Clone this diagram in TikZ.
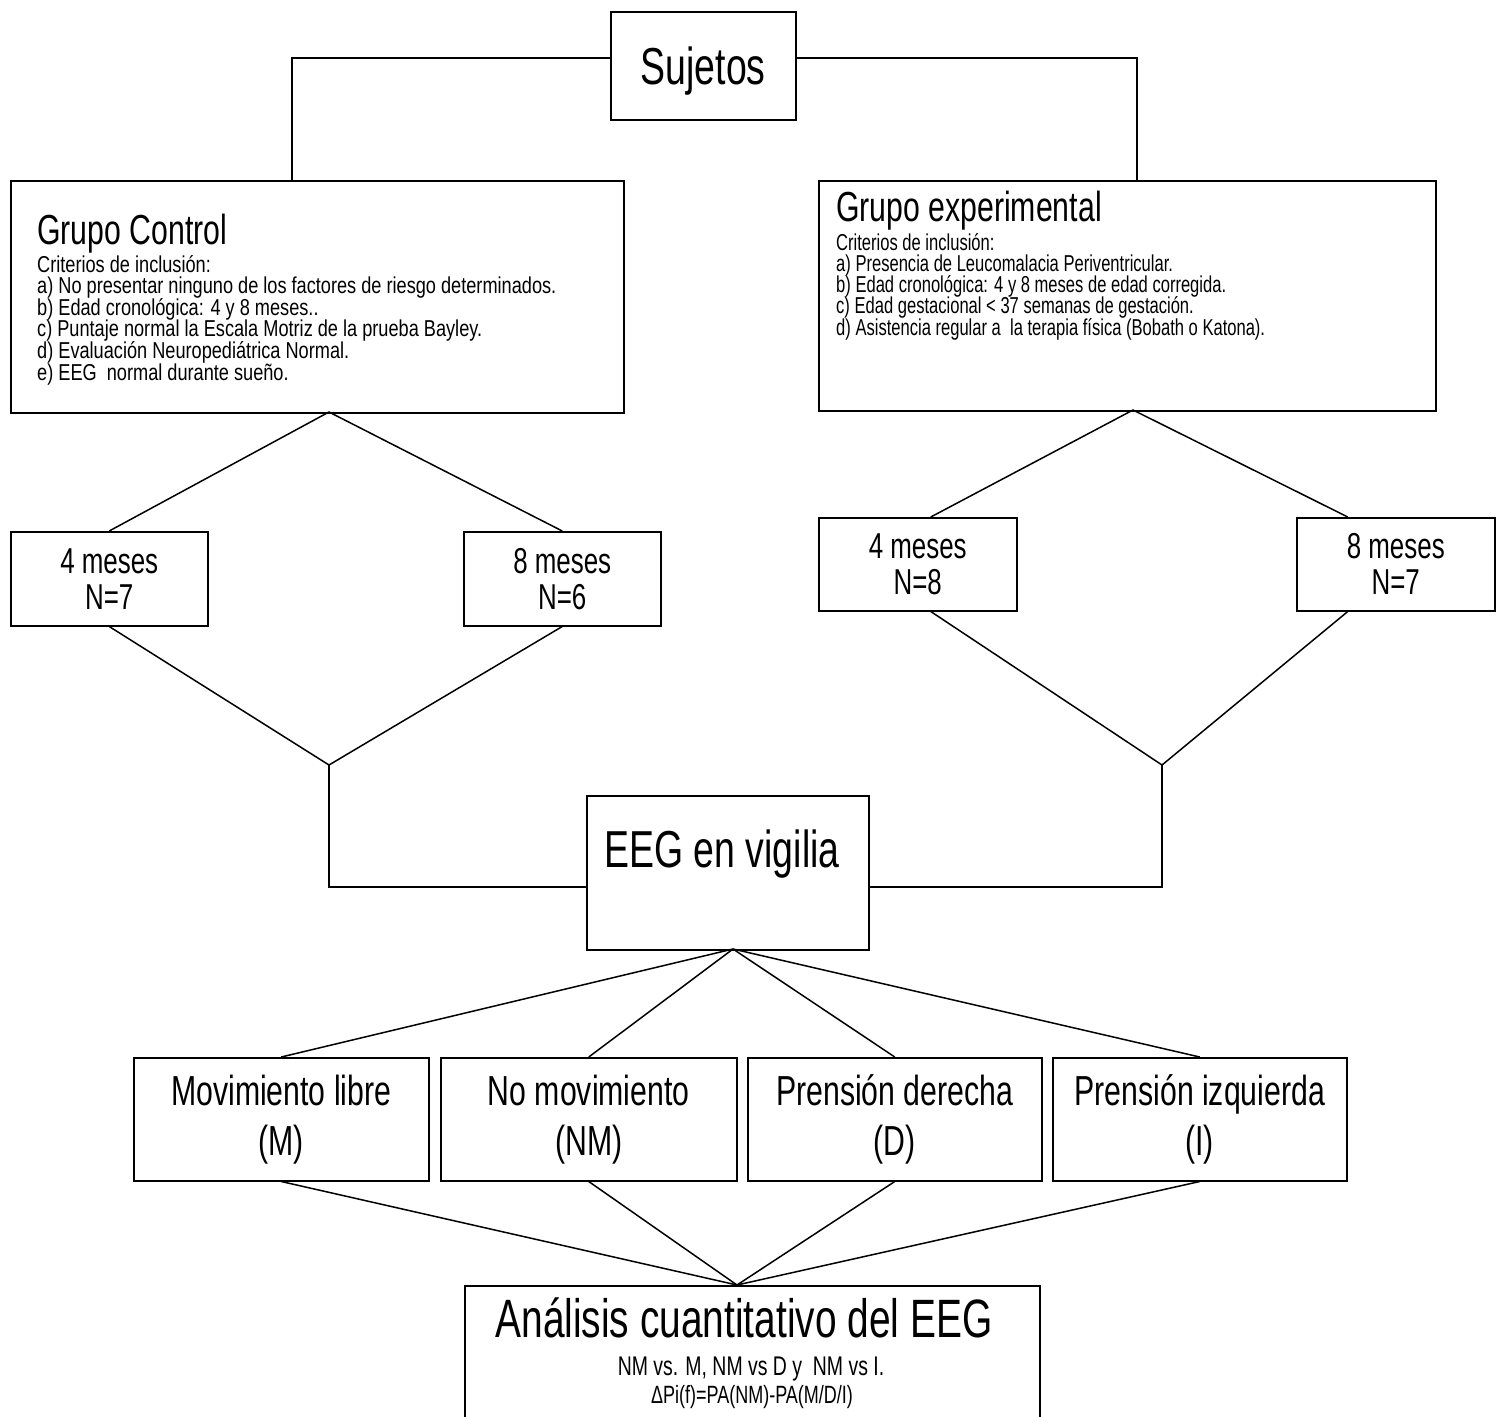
\documentclass[tikz,border=0pt]{standalone}
\usepackage{fontspec}
\setmainfont{Liberation Sans}[FakeStretch=0.72]
\newfontfamily\critfont{Liberation Sans}[FakeStretch=0.79]
\usepackage{tikz}

\begin{document}
\begin{tikzpicture}[x=1pt, y=-1pt,
    box/.style={draw, line width=1.5pt, inner sep=0pt},
    link/.style={line width=1.5pt},
    big/.style={font=\fontsize{52}{60}\selectfont},
    grp/.style={font=\fontsize{42}{48}\selectfont, anchor=base west, inner sep=0pt},
    crit/.style={font=\fontsize{23}{25}\selectfont, anchor=base west, inner sep=0pt},
    age/.style={box, align=center, font=\fontsize{36}{36}\selectfont,
                minimum height=94pt, anchor=north west},
    cond/.style={box, align=center, font=\fontsize{42}{50}\selectfont,
                 minimum height=123pt, anchor=north west},
    small/.style={font=\fontsize{25}{27}\selectfont, anchor=base, inner sep=0pt},
]
\useasboundingbox (0,0) rectangle (1504,1416);

% === Top ===
\node[box, big, text depth=0pt, minimum width=185pt, minimum height=108pt, anchor=north west] (suj) at (610,11) {Sujetos};

% === Groups ===
\node[box, minimum width=613pt, minimum height=232pt, anchor=north west] (ctl) at (10,180) {};
\node[box, minimum width=617pt, minimum height=230pt, anchor=north west] (exp) at (818,180) {};

\node[grp] (ctltit) at (37,244) {Grupo Control};
\foreach \t [count=\i from 0] in {{Criterios de inclusión:},
    {a) No presentar ninguno de los factores de riesgo determinados.},
    {b) Edad cronológica: 4 y 8 meses..},
    {c) Puntaje normal la Escala Motriz de la prueba Bayley.},
    {d) Evaluación Neuropediátrica Normal.},
    {e) EEG\ \ normal durante sueño.}}
  \node[crit, font=\critfont\fontsize{23}{25}\selectfont] (ctlc\i) at (37,272+21.6*\i) {\t};

\node[grp] (exptit) at (836,221) {Grupo experimental};
\foreach \t [count=\i from 0] in {{Criterios de inclusión:},
    {a) Presencia de Leucomalacia Periventricular.},
    {b) Edad cronológica: 4 y 8 meses de edad corregida.},
    {c) Edad gestacional < 37 semanas de gestación.},
    {d) Asistencia regular a\ \ la terapia física (Bobath o Katona).}}
  \node[crit] (expc\i) at (836,250+21.3*\i) {\t};

\coordinate (ctltop) at (292,180);
\coordinate (exptop) at (1137,180);
\draw[link] ([yshift=8pt]suj.west) -| (ctltop);
\draw[link] ([yshift=8pt]suj.east) -| (exptop);

% === Ages ===
\node[age, minimum width=197pt] (c4) at (10,531) {4 meses\\N=7};
\node[age, minimum width=197pt] (c8) at (463,531) {8 meses\\N=6};
\node[age, minimum width=198pt, minimum height=93pt] (e4) at (818,517) {4 meses\\N=8};
\node[age, minimum width=198pt, minimum height=93pt] (e8) at (1296,517) {8 meses\\N=7};

\coordinate (ctlbot) at (329,412);
\coordinate (expbot) at (1133,410);
\coordinate (ctlmeet) at (329,765);
\coordinate (expmeet) at (1162,765);

\draw[link] (c4.north) -- (ctlbot) -- (c8.north);
\draw[link] ([xshift=13pt]e4.north) -- (expbot) -- ([xshift=-48pt]e8.north);
\draw[link] (c4.south) -- (ctlmeet) -- (c8.south);
\draw[link] ([xshift=13pt]e4.south) -- (expmeet) -- ([xshift=-48pt]e8.south);

% === EEG ===
\node[box, minimum width=282pt, minimum height=154pt, anchor=north west] (eeg) at (586,795) {};
\node[big, anchor=base, inner sep=0pt] (eegtxt) at (722,867) {EEG en vigilia};
\draw[link] (ctlmeet) |- ([yshift=-14pt]eeg.west);
\draw[link] (expmeet) |- ([yshift=-14pt]eeg.east);

% === Conditions ===
\node[cond, minimum width=295pt] (mov) at (133,1057) {Movimiento libre\\(M)};
\node[cond, minimum width=296pt] (nomov) at (440,1057) {No movimiento\\(NM)};
\node[cond, minimum width=294pt] (pder) at (747,1057) {Prensión derecha\\(D)};
\node[cond, minimum width=294pt] (pizq) at (1052,1057) {Prensión izquierda\\(I)};

\coordinate (eegbot) at (733,949);
\coordinate (anatop) at (737,1285);
\foreach \n in {mov,nomov,pder,pizq} {
  \draw[link] (eegbot) -- (\n.north);
  \draw[link] (\n.south) -- (anatop);
}

% === Analysis ===
\node[box, minimum width=575pt, minimum height=140pt, anchor=north west] (ana) at (464,1285) {};
\node[big, font=\fontsize{54}{60}\selectfont, anchor=base, inner sep=0pt] (anatit) at (744,1337) {Análisis cuantitativo del EEG};
\node[small, font=\fontsize{27}{29}\selectfont] (anacmp) at (751,1375) {NM vs. M, NM vs D y\ \ NM vs I.};
\node[small] (anadif) at (752,1403) {ΔPi(f)=PA(NM)-PA(M/D/I)};
\end{tikzpicture}
\end{document}
